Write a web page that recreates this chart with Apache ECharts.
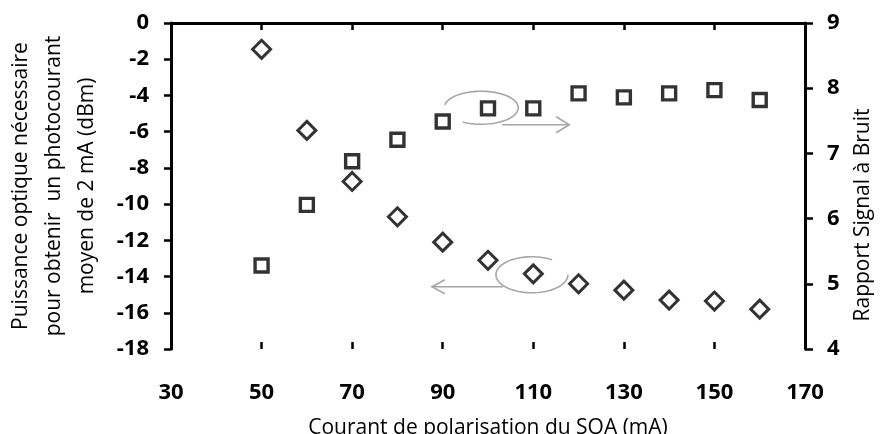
<!DOCTYPE html>
<html>
<head>
<meta charset="utf-8">
<script src="https://cdn.jsdelivr.net/npm/echarts@6/dist/echarts.min.js"></script>
<style>
  html, body { margin: 0; padding: 0; background: #fff; }
  #chart { width: 882px; height: 434px; }
</style>
</head>
<body>
<div id="chart"></div>
<script>
// courant de polarisation du SOA (mA)
const courant = [50, 60, 70, 80, 90, 100, 110, 120, 130, 140, 150, 160];
// puissance optique nécessaire (dBm) -> axe gauche, losanges
const puissance = [-1.45, -5.93, -8.75, -10.7, -12.1, -13.1, -13.85, -14.4, -14.75, -15.3, -15.35, -15.8];
// rapport signal à bruit -> axe droit, carrés
const rsb = [5.28, 6.21, 6.88, 7.21, 7.49, 7.69, 7.69, 7.92, 7.86, 7.92, 7.97, 7.82];

const xRange = [30, 170, 20];
const yLeftRange = [-18, 0, 2];
const yRightRange = [4, 9, 1];

const FONT = 'Open Sans';
const tickLabel = { color: '#000', fontFamily: FONT, fontWeight: 'bold', fontSize: 22 };
const axisLineStyle = { color: '#000', width: 3 };

var chart = echarts.init(document.getElementById('chart'));

chart.setOption({
  animation: false,
  grid: { left: 171, right: 77, top: 23, bottom: 85, containLabel: false, outerBoundsMode: 'none' },
  xAxis: [
    {
      type: 'value',
      min: xRange[0], max: xRange[1], interval: xRange[2],
      name: 'Courant de polarisation du SOA (mA)',
      nameLocation: 'middle',
      nameGap: 69,
      nameTextStyle: { color: '#000', fontFamily: FONT, fontSize: 21 },
      axisLine: { lineStyle: axisLineStyle },
      axisTick: { length: 7, lineStyle: { color: '#000', width: 2.5 } },
      axisLabel: Object.assign({ margin: 33 }, tickLabel),
      splitLine: { show: false }
    },
    {
      // ticks above the axis too (crossing ticks)
      type: 'value',
      position: 'bottom',
      min: xRange[0], max: xRange[1], interval: xRange[2],
      axisLine: { show: false },
      axisTick: { inside: true, length: 7, lineStyle: { color: '#000', width: 2.5 } },
      axisLabel: { show: false },
      splitLine: { show: false }
    }
  ],
  yAxis: [
    {
      type: 'value',
      position: 'left',
      min: yLeftRange[0], max: yLeftRange[1], interval: yLeftRange[2],
      name: 'Puissance optique nécessaire\npour obtenir  un photocourant\nmoyen de 2 mA (dBm)',
      nameLocation: 'middle',
      nameRotate: 90,
      nameGap: 67,
      nameTextStyle: { color: '#000', fontFamily: FONT, fontSize: 21, lineHeight: 33, align: 'center' },
      axisLine: { show: true, lineStyle: axisLineStyle },
      axisTick: { show: true, length: 7, lineStyle: { color: '#000', width: 2.5 } },
      axisLabel: Object.assign({ margin: 22 }, tickLabel),
      splitLine: { show: false }
    },
    {
      type: 'value',
      position: 'right',
      min: yRightRange[0], max: yRightRange[1], interval: yRightRange[2],
      axisLine: { show: true, lineStyle: axisLineStyle },
      axisTick: { show: true, length: 8, lineStyle: { color: '#000', width: 2.5 } },
      axisLabel: Object.assign({ margin: 22 }, tickLabel),
      splitLine: { show: false }
    }
  ],
  series: [
    {
      name: 'Puissance',
      type: 'scatter',
      yAxisIndex: 0,
      symbol: 'diamond',
      symbolSize: [18, 18],
      itemStyle: { color: '#fff', borderColor: '#000', borderWidth: 3 },
      data: courant.map((c, i) => [c, puissance[i]])
    },
    {
      name: 'RSB',
      type: 'scatter',
      yAxisIndex: 1,
      symbol: 'rect',
      symbolSize: 13,
      itemStyle: { color: '#fff', borderColor: '#000', borderWidth: 3.4 },
      data: courant.map((c, i) => [c, rsb[i]])
    }
  ]
});

// annotations : ellipses + flèches grises
function ellipseArc(cx, cy, rx, ry, a0, a1) {
  const pts = [];
  const n = 60;
  for (let k = 0; k <= n; k++) {
    const t = (a0 + (a1 - a0) * k / n) * Math.PI / 180;
    pts.push([cx + rx * Math.cos(t), cy + ry * Math.sin(t)]);
  }
  return pts;
}
const grey = { stroke: '#a6a6a6', lineWidth: 1.6, fill: null };

const up = chart.convertToPixel({ xAxisIndex: 0, yAxisIndex: 1 }, [98.5, 7.70]);
const lo = chart.convertToPixel({ xAxisIndex: 0, yAxisIndex: 0 }, [109.7, -13.9]);

const graphics = [
  { type: 'polyline', shape: { points: ellipseArc(up[0], up[1], 37, 16.5, 190, 480) }, style: grey, z: 1 },
  { type: 'line', shape: { x1: up[0] + 21, y1: up[1] + 17, x2: up[0] + 88, y2: up[1] + 17 }, style: grey, z: 1 },
  { type: 'polyline', shape: { points: [[up[0] + 75, up[1] + 9], [up[0] + 88, up[1] + 17], [up[0] + 75, up[1] + 25]] }, style: grey, z: 1 },

  { type: 'polyline', shape: { points: ellipseArc(lo[0], lo[1], 36, 18, 0, 304) }, style: grey, z: 1 },
  { type: 'line', shape: { x1: lo[0] - 29, y1: lo[1] + 12, x2: lo[0] - 100, y2: lo[1] + 12 }, style: grey, z: 1 },
  { type: 'polyline', shape: { points: [[lo[0] - 87, lo[1] + 5], [lo[0] - 100, lo[1] + 12], [lo[0] - 87, lo[1] + 19]] }, style: grey, z: 1 },

  {
    type: 'text',
    x: 863, y: 215,
    rotation: Math.PI / 2,
    style: { text: 'Rapport Signal à Bruit', fill: '#000', font: '21px "Open Sans"', align: 'center', verticalAlign: 'middle' }
  }
];
chart.setOption({ graphic: graphics });
</script>
</body>
</html>
